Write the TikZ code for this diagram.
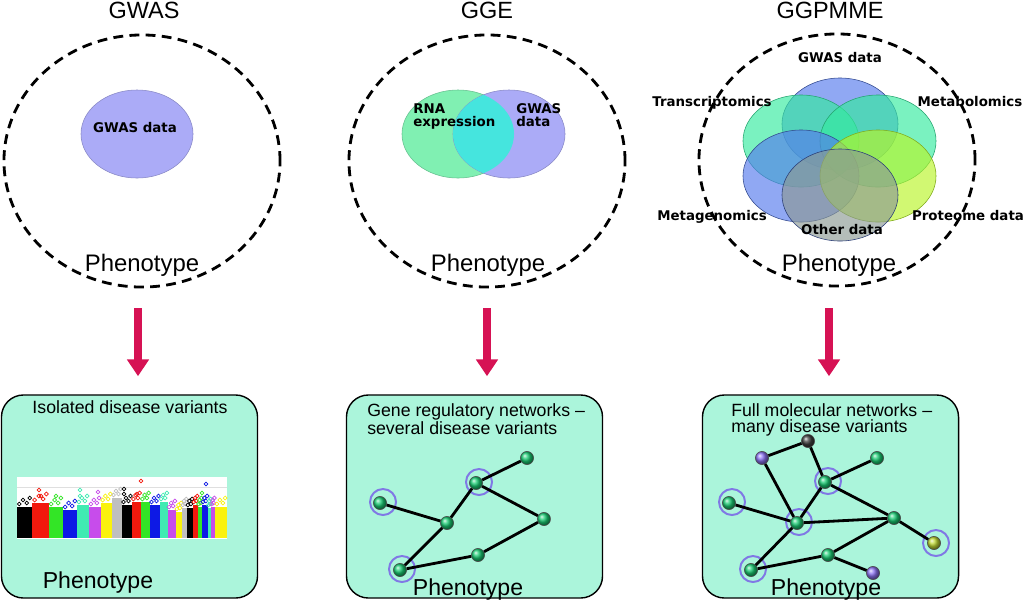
\documentclass[tikz,border=0pt]{standalone}
\usepackage{fontspec}
\setmainfont{Liberation Sans}
\newfontfamily\verdana{DejaVu Sans}
\usetikzlibrary{shapes,arrows.meta,positioning}
\definecolor{PanelColor}{rgb}{0.67,0.96,0.86}
\definecolor{ArrowColor}{rgb}{0.84,0.07,0.33}
\definecolor{GwasColor}{rgb}{0.67,0.67,0.97}
\definecolor{RnaColor}{rgb}{0.5,0.94,0.7}
\definecolor{OverlapColor}{rgb}{0.27,0.9,0.87}
\definecolor{VBlue}{rgb}{0.33,0.48,0.93}
\definecolor{VTeal}{rgb}{0.2,0.92,0.62}
\definecolor{VLime}{rgb}{0.72,0.96,0.15}
\definecolor{VGrey}{rgb}{0.55,0.6,0.58}
\definecolor{GeneColor}{rgb}{0.1,0.8,0.45}
\definecolor{RingColor}{rgb}{0.5,0.47,0.9}
\definecolor{HubColor}{rgb}{0.25,0.25,0.25}
\definecolor{ProbeColor}{rgb}{0.55,0.45,0.95}
\definecolor{LimeGene}{rgb}{0.75,0.85,0.2}
\definecolor{MhRed}{rgb}{0.95,0.1,0.05}
\definecolor{MhGreen}{rgb}{0.2,0.9,0.15}
\definecolor{MhBlue}{rgb}{0.05,0.1,0.9}
\definecolor{MhTeal}{rgb}{0.25,0.92,0.7}
\definecolor{MhPink}{rgb}{0.78,0.3,0.92}
\definecolor{MhYellow}{rgb}{0.98,0.95,0.05}
\definecolor{MhGray}{rgb}{0.75,0.75,0.75}
\tikzset{
    heading/.style={font=\fontsize{16.7}{18}\selectfont, anchor=base},
    pheno/.style={font=\fontsize{17}{18}\selectfont, anchor=base},
    omics/.style={font=\verdana\bfseries\fontsize{9.5}{8.6}\selectfont, anchor=base, inner sep=0pt},
    caption/.style={font=\fontsize{12.6}{11.4}\selectfont, inner sep=0pt},
    phenoring/.style={ellipse, draw, line width=2pt, dash pattern=on 7pt off 4.5pt, minimum width=6.9cm, minimum height=6.3cm},
    venn/.style={ellipse, draw, thin, fill opacity=0.65, minimum width=2.9cm, minimum height=2.3cm, inner sep=0pt},
    panel/.style={rectangle, rounded corners=0.55cm, draw, line width=1pt, fill=PanelColor, minimum width=6.4cm, minimum height=5.075cm},
    flow/.style={-{Triangle[width=15pt,length=12pt]}, line width=5.7pt, draw=ArrowColor, shorten >=0.45cm},
    gene/.style={circle, draw=black!70, thin, ball color=GeneColor, minimum size=0.33cm, inner sep=0pt},
    hit/.style={circle, draw=RingColor, line width=1.4pt, minimum size=0.65cm, inner sep=0pt},
    link/.style={line width=2pt}
}
\begin{document}
\begin{tikzpicture}[x=0.025cm, y=-0.025cm]
\useasboundingbox (0,0) rectangle (1024,601);

% Headings
\node (tgwas) [heading] at (144,18) {GWAS};
\node (tgge) [heading] at (487,18) {GGE};
\node (tggpmme) [heading] at (830,18) {GGPMME};

% Data scopes
\node (gwasring) [phenoring] at (142,161) {};
\node (ggering) [phenoring] at (487,161) {};
\node (ggpmmering) [phenoring] at (837,160) {};

% GWAS data only
\node (gwasdata) [ellipse, draw=GwasColor!80!black, thin, fill=GwasColor, minimum width=2.8cm, minimum height=2.2cm] at (137,134) {};
\node (lgwas) [omics] at (135,132) {GWAS data};

% RNA expression and GWAS data
\node (rna) [ellipse, draw=RnaColor!80!black, thin, fill=RnaColor, minimum width=2.8cm, minimum height=2.2cm] at (458,134) {};
\node (ggegwas) [ellipse, draw=GwasColor!80!black, thin, fill=GwasColor, minimum width=2.8cm, minimum height=2.2cm] at (509,134) {};
\begin{scope}
  \clip (458,134) ellipse [x radius=1.4cm, y radius=1.1cm];
  \fill[OverlapColor] (509,134) ellipse [x radius=1.4cm, y radius=1.1cm];
\end{scope}
\node (lrna) [omics, anchor=base west, align=left] at (413,126) {RNA\\expression};
\node (lggegwas) [omics, anchor=base west, align=left] at (516,126) {GWAS\\data};

% Multi-omics
\node (vgwas) [venn, fill=VBlue, draw=VBlue!60!black] at (840,124) {};
\node (vtrans) [venn, fill=VTeal, draw=VTeal!70!black] at (801,141) {};
\node (vmetab) [venn, fill=VTeal, draw=VTeal!70!black] at (878,141) {};
\node (vmetag) [venn, fill=VBlue, draw=VBlue!60!black] at (801,176) {};
\node (vprot) [venn, fill=VLime, draw=VLime!70!black] at (878,176) {};
\node (vother) [venn, fill=VGrey, draw=VBlue!50!black] at (840,195) {};
\node (lvgwas) [omics] at (840,62) {GWAS data};
\node (lvtrans) [omics] at (712,106) {Transcriptomics};
\node (lvmetab) [omics] at (970,106) {Metabolomics};
\node (lvmetag) [omics] at (712,220) {Metagenomics};
\node (lvprot) [omics] at (968,220) {Proteome data};
\node (lvother) [omics] at (842,234) {Other data};

% Phenotype labels
\node (p1) [pheno] at (142,271) {Phenotype};
\node (p2) [pheno] at (488,271) {Phenotype};
\node (p3) [pheno] at (839,271) {Phenotype};

% Result panels
\node (box1) [panel] at (129.5,496.5) {};
\node (box2) [panel] at (474.5,496.5) {};
\node (box3) [panel] at (830.5,496.5) {};

% Arrows
\coordinate (a1) at (138,308);
\coordinate (a2) at (487,308);
\coordinate (a3) at (829,308);
\draw [flow] (a1) -- (a1 |- box1.north);
\draw [flow] (a2) -- (a2 |- box2.north);
\draw [flow] (a3) -- (a3 |- box3.north);

% Panel captions
\node (cap1) [caption, anchor=base] at (130,413) {Isolated disease variants};
\node (cap2) [caption, anchor=north west, align=left] at (367,403) {Gene regulatory networks --\\several disease variants};
\node (cap3) [caption, anchor=north west, align=left] at (731,403) {Full molecular networks --\\many disease variants};

% Manhattan plot
\fill[white] (17,477) rectangle (227,539);
\draw[gray!25] (17,487) -- (227,487);
\foreach \xa/\xb/\yt/\col in {17/32/507/black, 32/49/503/MhRed, 49/63/507/MhGreen, 63/77/510/MhBlue, 77/89/505/MhTeal, 89/101/507/MhPink, 101/112/503/MhYellow, 112/122/498/MhGray,
    122/132/505/black, 132/141/502/MhRed, 141/150/502/MhGreen, 150/160/505/MhBlue, 160/168/502/MhTeal, 168/176/510/MhPink, 176/182/512/MhYellow, 182/187/508/MhGray,
    187/193/508/black, 193/198/505/MhRed, 198/202/507/MhGreen, 202/208/505/MhBlue, 208/211/508/MhTeal, 211/215/507/MhPink, 215/227/507/MhYellow}{
  \fill[\col] (\xa,538) rectangle (\xb,\yt);
  \foreach \f/\dy in {0.15/3, 0.4/7, 0.65/4, 0.85/9}
    \draw[\col, line width=0.5pt] ({\xa+(\xb-\xa)*\f},{\yt-\dy}) circle [radius=1.4pt];
}
\foreach \px/\py/\col in {39/490/MhRed, 41/496/MhRed, 141/481/MhRed, 206/484/MhBlue, 56/496/MhGreen, 80/490/MhTeal, 80/496/MhTeal, 98/492/MhPink, 124/489/black, 124/494/black, 137/494/MhRed, 202/493/MhGreen}
  \draw[\col, line width=0.5pt] (\px,\py) circle [radius=1.4pt];
\node (p4) [pheno, font=\fontsize{16.4}{18}\selectfont] at (98,588) {Phenotype};

% Gene regulatory network
\node (g1) [gene] at (527,458) {};
\node (g2) [gene] at (476,483) {};
\node (g3) [gene] at (380,503) {};
\node (g4) [gene] at (447,523) {};
\node (g5) [gene] at (544,519) {};
\node (g6) [gene] at (478,555) {};
\node (g7) [gene] at (400,570) {};
\node (g2hit) [hit] at (479,482) {};
\node (g3hit) [hit] at (383,502) {};
\node (g7hit) [hit] at (402,569) {};
\draw [link] (g1) -- (g2);
\draw [link] (g2) -- (g4);
\draw [link] (g2) -- (g5);
\draw [link] (g3) -- (g4);
\draw [link] (g4) -- (g7);
\draw [link] (g7) -- (g6);
\draw [link] (g6) -- (g5);
\node (p5) [pheno, font=\fontsize{16.4}{18}\selectfont] at (468,595) {Phenotype};

% Full molecular network
\node (m1) [gene, ball color=HubColor] at (808,441) {};
\node (m2) [gene, ball color=ProbeColor] at (762,458) {};
\node (m3) [gene] at (877,458) {};
\node (m4) [gene] at (825,482) {};
\node (m5) [gene] at (729,503) {};
\node (m6) [gene] at (797,523) {};
\node (m7) [gene] at (894,518) {};
\node (m8) [gene, ball color=LimeGene] at (934,543) {};
\node (m9) [gene] at (828,555) {};
\node (m10) [gene] at (751,570) {};
\node (m11) [gene, ball color=ProbeColor] at (873,573) {};
\node (m4hit) [hit] at (828,481) {};
\node (m5hit) [hit] at (732,502) {};
\node (m6hit) [hit] at (799,522) {};
\node (m8hit) [hit] at (936,543) {};
\node (m10hit) [hit] at (753,569) {};
\draw [link] (m2) -- (m1);
\draw [link] (m1) -- (m4);
\draw [link] (m2) -- (m6);
\draw [link] (m4) -- (m3);
\draw [link] (m4) -- (m6);
\draw [link] (m4) -- (m7);
\draw [link] (m5) -- (m6);
\draw [link] (m6) -- (m7);
\draw [link] (m7) -- (m8);
\draw [link] (m6) -- (m10);
\draw [link] (m10) -- (m9);
\draw [link] (m9) -- (m7);
\draw [link] (m9) -- (m11);
\node (p6) [pheno, font=\fontsize{16.4}{18}\selectfont] at (826,595) {Phenotype};

\end{tikzpicture}
\end{document}
